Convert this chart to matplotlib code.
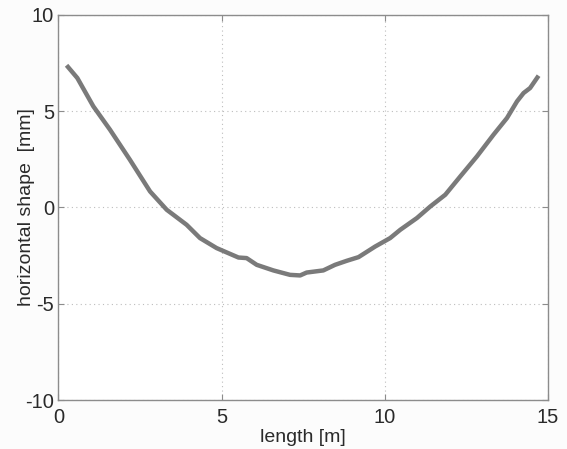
import numpy as np
import matplotlib.pyplot as plt

# ------------------------------------------------------------
# data
# ------------------------------------------------------------
LENGTH_M = [
    0.25, 0.58, 1.07, 1.58, 2.19, 2.81, 3.32, 3.93, 4.34, 4.85,
    5.26, 5.52, 5.77, 6.08, 6.59, 7.10, 7.41, 7.61, 8.12, 8.48,
    8.84, 9.20, 9.71, 10.17, 10.48, 10.99, 11.40, 11.86, 12.32, 12.83,
    13.34, 13.75, 14.06, 14.26, 14.46, 14.72,
]
SHAPE_MM = [
    7.38, 6.72, 5.25, 4.04, 2.48, 0.83, -0.12, -0.90, -1.59, -2.11,
    -2.41, -2.60, -2.63, -2.98, -3.27, -3.50, -3.53, -3.38, -3.27, -2.98,
    -2.77, -2.58, -2.03, -1.59, -1.16, -0.55, 0.05, 0.66, 1.61, 2.65,
    3.78, 4.64, 5.51, 5.94, 6.20, 6.84,
]

X_TICKS = [0, 5, 10, 15]
Y_TICKS = [-10, -5, 0, 5, 10]

LINE_COLOR = "#7a7a7a"
SPINE_COLOR = "#8c8c8c"
TEXT_COLOR = "#2a2a2a"

plt.rcParams["font.family"] = ["Liberation Sans", "DejaVu Sans"]
plt.rcParams["axes.unicode_minus"] = False

figure = plt.figure(figsize=(5.67, 4.49), dpi=100, facecolor="#fcfcfc")
axis = figure.add_axes([0.103, 0.109, 0.863, 0.858])

axis.plot(LENGTH_M, SHAPE_MM, color=LINE_COLOR, linewidth=3.2,
          solid_capstyle="butt")

axis.set_xlim(0, 15)
axis.set_ylim(-10, 10)
axis.set_xticks(X_TICKS)
axis.set_yticks(Y_TICKS)
axis.grid(True, linestyle=(0, (1, 3)), color="#bdbdbd", linewidth=0.8)

for spine in axis.spines.values():
    spine.set_color(SPINE_COLOR)
    spine.set_linewidth(1.0)

axis.tick_params(axis="both", direction="in", length=4, width=0.8,
                 color=SPINE_COLOR, top=True, right=True,
                 labelsize=14.5, labelcolor=TEXT_COLOR)
axis.tick_params(axis="x", pad=6)
axis.tick_params(axis="y", pad=3)

axis.set_xlabel("length [m]", fontsize=14, color=TEXT_COLOR)
axis.set_ylabel("horizontal shape  [mm]", fontsize=14, color=TEXT_COLOR)
axis.xaxis.set_label_coords(0.5, -0.097)
axis.yaxis.set_label_coords(-0.066, 0.5)
axis.xaxis.label.set_va("center")
axis.yaxis.label.set_va("center")

figure.savefig("out.png", dpi=100, facecolor=figure.get_facecolor())
